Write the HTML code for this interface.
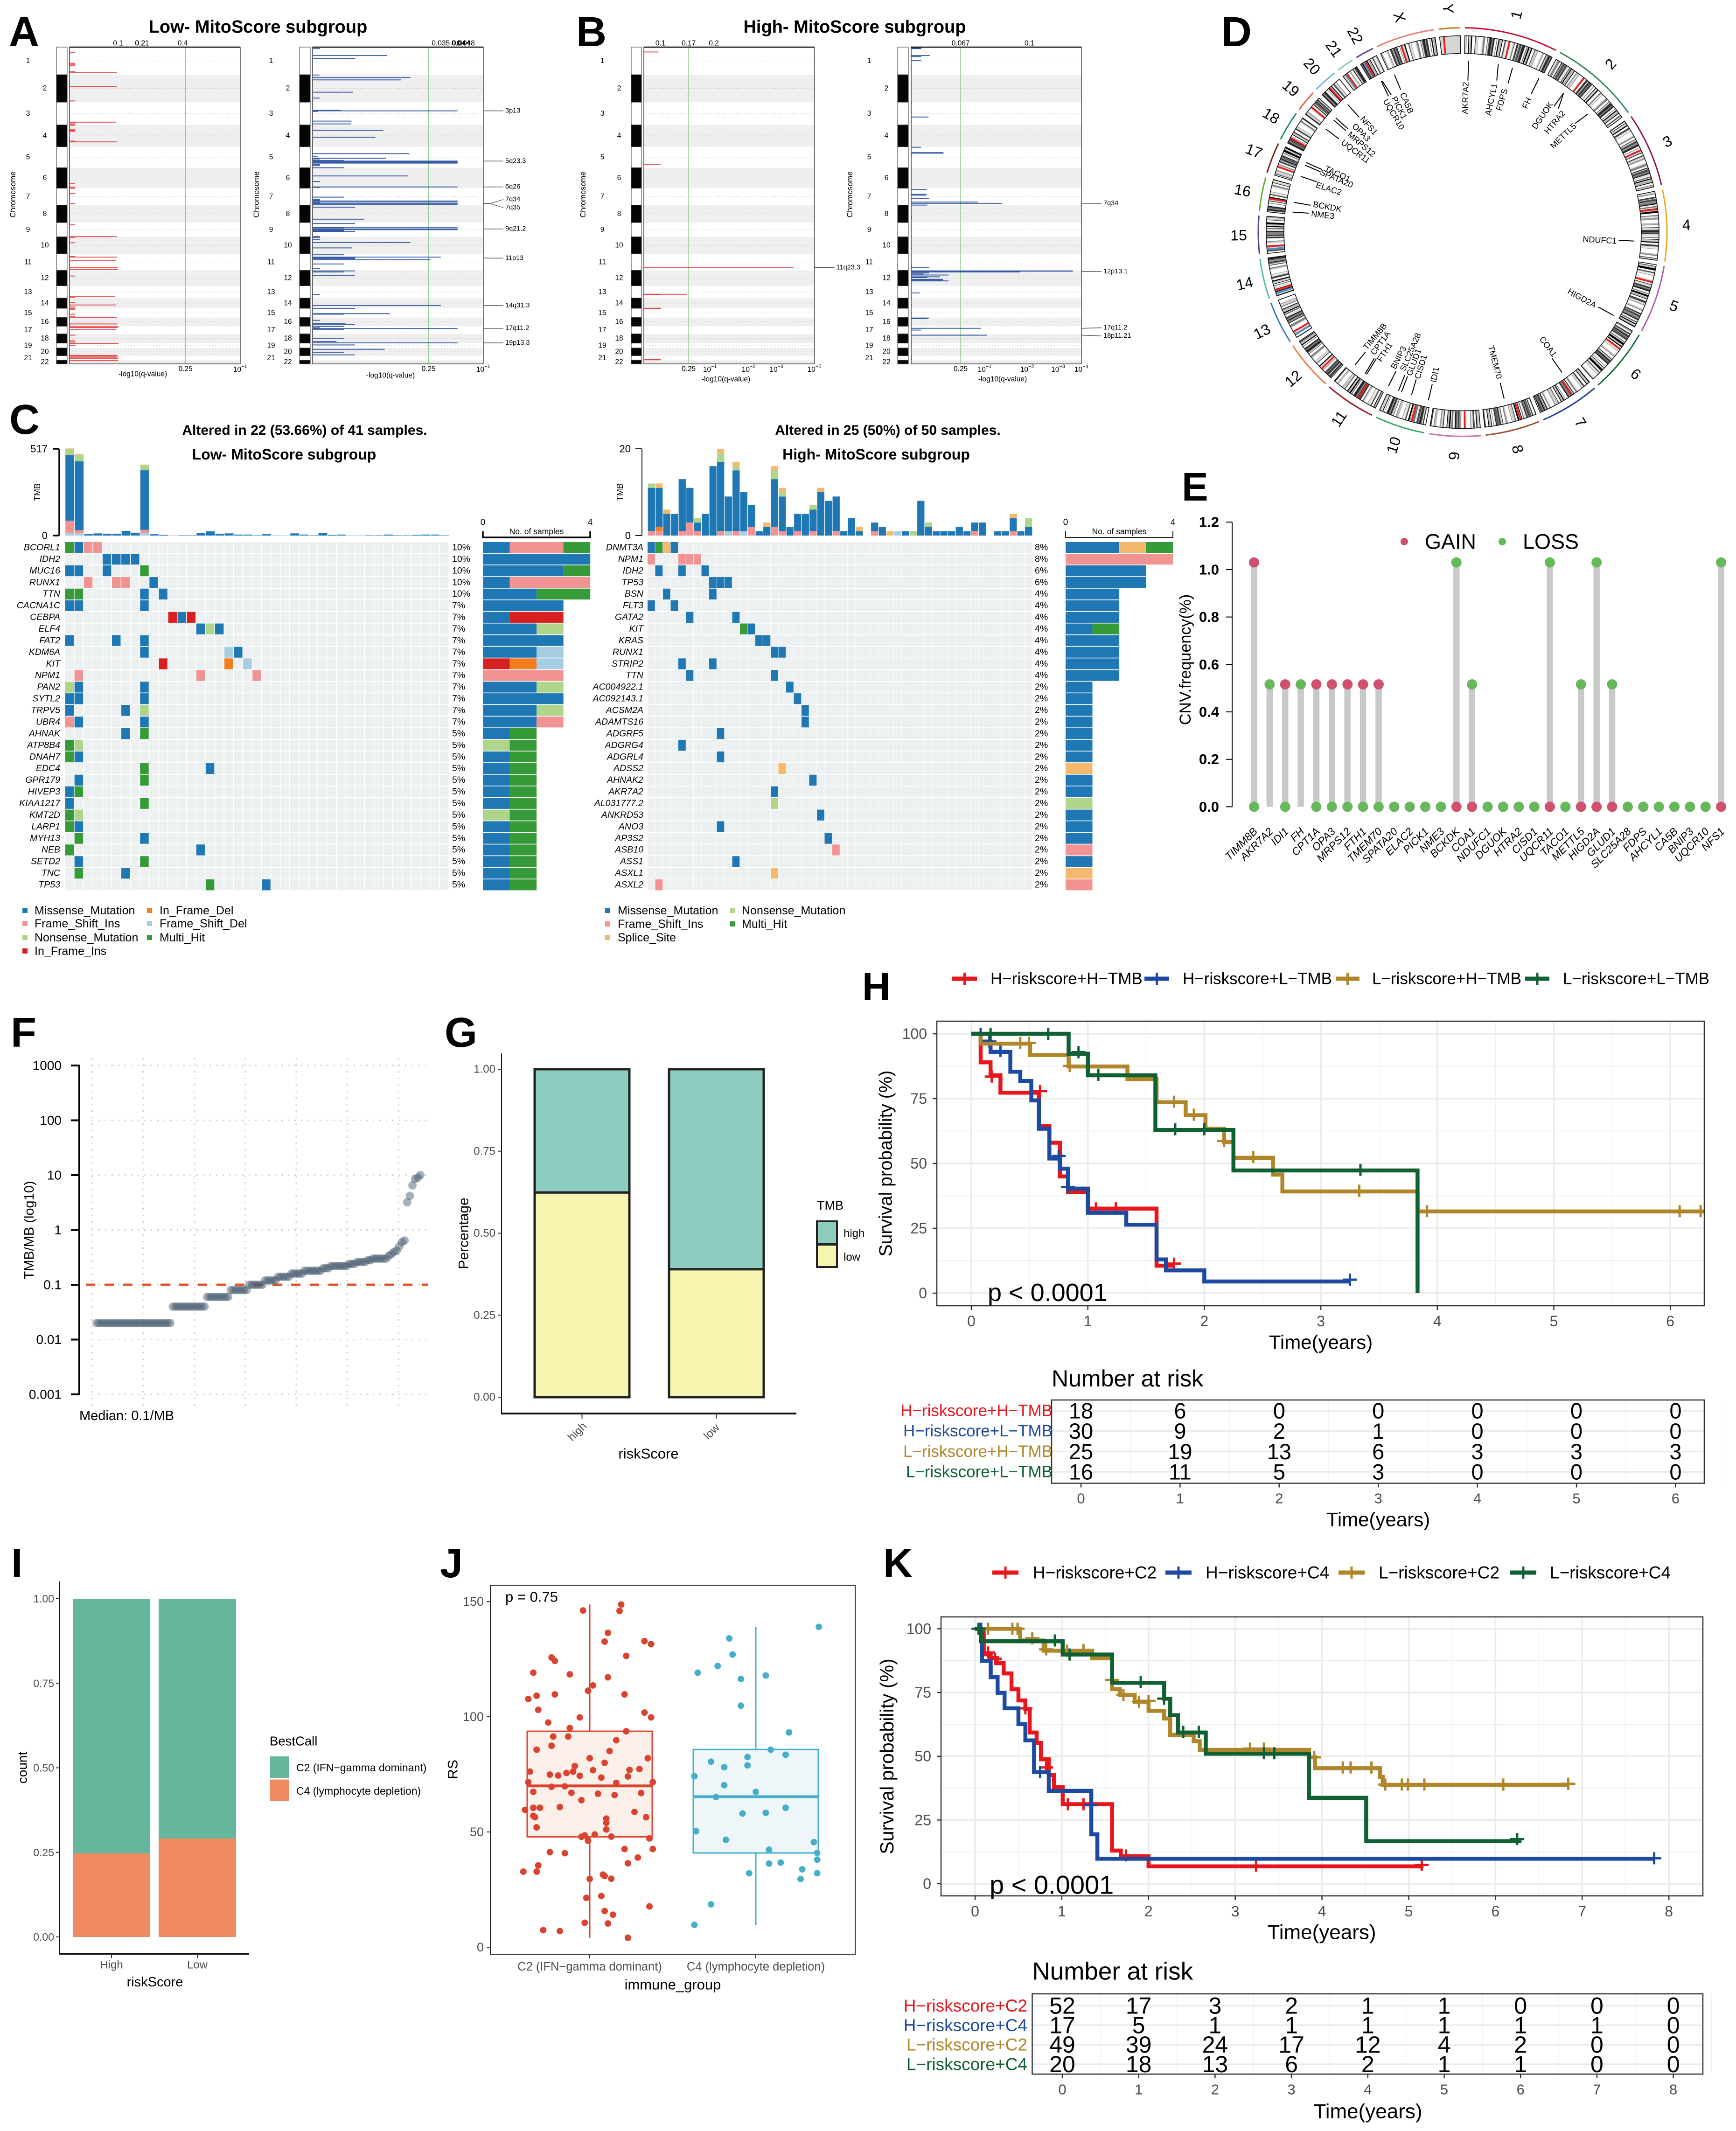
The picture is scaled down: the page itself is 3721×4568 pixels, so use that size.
<!DOCTYPE html>
<html lang="en">
<head>
<meta charset="utf-8">
<title>Multi-panel genomic figure</title>
<style>
html,body{margin:0;padding:0;background:#fff}
svg{display:block;font-family:"Liberation Sans",Arial,sans-serif}
.letter{font-weight:700;font-size:90px;fill:#000}
.ttl{font-weight:700;fill:#000;text-anchor:middle}
</style>
</head>
<body>
<svg id="figure" xmlns="http://www.w3.org/2000/svg" width="3721" height="4568" viewBox="0 0 3721 4568">
<rect x="0" y="0" width="3721" height="4568" fill="#fff"/>
<g id="panelA">
  <text class="letter" x="19" y="99">A</text>
  <text class="ttl" x="553" y="70" font-size="38">Low- MitoScore subgroup</text>
</g>
<g id="panelB">
  <text class="letter" x="1235" y="99">B</text>
  <text class="ttl" x="1832" y="70" font-size="38">High- MitoScore subgroup</text>
</g>
<g id="panelD">
  <text class="letter" x="2618" y="99">D</text>
</g>
<g id="panelC">
  <text class="letter" x="20" y="930">C</text>
  <text class="ttl" x="653" y="932" font-size="30">Altered in 22 (53.66%) of 41 samples.</text>
  <text class="ttl" x="609" y="985" font-size="32">Low- MitoScore subgroup</text>
  <text class="ttl" x="1903" y="932" font-size="30">Altered in 25 (50%) of 50 samples.</text>
  <text class="ttl" x="1878" y="985" font-size="32">High- MitoScore subgroup</text>
</g>
<g id="panelE">
  <text class="letter" x="2533" y="1073" style="font-size:85px">E</text>
</g>
<g id="panelF">
  <text class="letter" x="23" y="2244">F</text>
</g>
<g id="panelG">
  <text class="letter" x="953" y="2244">G</text>
</g>
<g id="panelH">
  <text class="letter" x="1848" y="2144" style="font-size:84px">H</text>
</g>
<g id="panelI">
  <text class="letter" x="24" y="3381" style="font-size:88px">I</text>
</g>
<g id="panelJ">
  <text class="letter" x="943" y="3381" style="font-size:88px">J</text>
</g>
<g id="panelK">
  <text class="letter" x="1893" y="3381" style="font-size:88px">K</text>
</g>
</svg>
<script>
/* ===== DATA: gistic ===== */
const chromLengths=[108,107,89,85,82,80,66,68,56,66,65,60,48,40,36,34,30,36,19,30,18,14];
const gisticLowAmp=[[22,16],[63,16],[67,16],[72,16],[96,16],[100,133],[154,133],[210,16],[293,130],[296,16],[301,16],[305,16],[321,16],[325,16],[329,16],[367,16],[370,133],[533,16],[547,16],[551,16],[572,16],[610,16],[694,16],[740,133],[743,16],[764,16],[818,16],[820,133],[834,130],[861,135],[869,137],[894,16],[973,127],[977,16],[997,16],[1007,131],[1015,16],[1020,16],[1025,16],[1043,16],[1051,16],[1056,133],[1081,133],[1092,137],[1095,135],[1102,131],[1125,16],[1147,16],[1152,16],[1157,137],[1166,16],[1204,135],[1207,135],[1211,133],[1217,137],[1224,137]];
const gisticLowDel=[[6,21],[33,209],[44,119],[109,19],[119,274],[128,248],[176,113],[199,20],[247,79],[249,406],[251,14],[289,109],[300,108],[325,198],[352,176],[416,271],[426,14],[434,206],[437,20],[443,87],[445,406],[448,406],[451,406],[453,406],[459,21],[463,21],[471,88],[503,268],[525,21],[546,406],[548,21],[586,88],[595,21],[598,21],[601,406],[605,406],[608,21],[611,406],[615,406],[625,119],[672,144],[689,119],[704,406],[706,88],[710,406],[713,406],[716,88],[719,88],[720,119],[739,21],[743,21],[752,21],[763,274],[784,111],[811,88],[820,359],[823,119],[826,119],[830,330],[847,88],[865,21],[874,119],[878,88],[891,119],[966,21],[1009,359],[1021,119],[1041,216],[1043,88],[1067,21],[1080,92],[1083,119],[1091,88],[1096,21],[1099,406],[1102,88],[1137,88],[1150,67],[1155,406],[1163,119],[1180,202],[1192,88],[1202,119]];
const gisticHighAmp=[[19,38],[458,44],[861,387],[965,112],[966,44],[1020,44],[1021,44],[1220,44],[1221,44]];
const gisticHighDel=[[4,26],[5,26],[6,26],[33,48],[37,26],[53,26],[273,45],[391,26],[412,82],[414,85],[556,40],[575,40],[578,39],[591,47],[605,172],[610,234],[617,42],[861,47],[874,418],[875,418],[878,282],[882,47],[886,32],[890,97],[897,75],[900,42],[907,82],[910,82],[913,97],[960,22],[1058,47],[1060,42],[1098,180],[1105,26],[1125,196],[80,2],[145,2],[213,2],[220,2],[250,2],[255,2],[285,2],[295,2],[425,2],[483,2],[527,2],[660,2],[665,2],[670,2],[700,2],[740,2],[785,2],[850,2],[857,2],[925,2],[980,2],[1005,2],[1037,2],[1155,2],[1165,2],[1207,2],[1215,2],[1220,2]];
const lowAmpTopLabels=['0.1','0.2','0.21','0.4'];
const lowAmpTopScores=[136,198,203,317];
const lowDelTopLabels=['0.035','0.04','0.044','0.048'];
const lowDelTopScores=[359,409,416,429];
const highAmpTopLabels=['0.1','0.17','0.2'];
const highAmpTopScores=[43,116,181];
const highDelTopLabels=['0.067','0.1'];
const highDelTopScores=[128,306];
const lowBottomExps=['−1'];
const lowBottomScores=[478];
const highAmpBottomExps=['−1','−2','−3','−5'];
const highAmpBottomScores=[171,271,343,441];
const highDelBottomExps=['−1','−2','−3','−4'];
const highDelBottomScores=[190,300,380,440];
const lowDelPeaks=[['3p13',249,249],['5q23.3',445,445],['6q26',546,546],['7q34',611,595],['7q35',611,627],['9q21.2',710,710],['11p13',824,824],['14q31.3',1009,1009],['17q11.2',1098,1098],['19p13.3',1155,1155]];
const highAmpPeaks=[['11q23.3',861,861]];
const highDelPeaks=[['7q34',610,610],['12p13.1',876,876],['17q11.2',1098,1096],['18p11.21',1125,1128]];

/* ===== DATA: circos ===== */
const circosNames=['1','2','3','4','5','6','7','8','9','10','11','12','13','14','15','16','17','18','19','20','21','22','X','Y'];
const circosLengths=[248,242,198,190,181,171,159,145,138,133,135,133,114,107,102,90,83,80,58,64,46,50,156,57];
const circosCentromeres=[.5,.38,.46,.26,.27,.35,.38,.31,.31,.3,.4,.27,.16,.15,.19,.41,.3,.2,.45,.44,.28,.3,.39,.2];
const circosArcColors=['#c8102e','#2e8b57','#8b1a5a','#f5a623','#b05cb0','#1e6b3c','#1f3f9f','#a0522d','#d070a8','#3caa6e','#9b1c2e','#ee7744','#3a7ab5','#4cbfa5','#5e3c99','#5fae2e','#8b1a1a','#1f8a70','#e0604a','#6fb5d6','#7ecbb5','#5e3c99','#e87a70','#c87a20'];
const bandGrays=[255,200,255,120,235,60,255,160,220,0,255,100,210,255,40,180,255,140,0,240,90,255,190,30,255,130,225,70,255];
const bandWidths=[3,2,5,2,4,1.5,3,2,6,2,2.5,3,1.5,4,2,3];
const acrocentric=['13','14','15','21','22'];
const circosGenes=[['AKR7A2',2,2,367,325,1.2,322],['AHCYL1',12,12.7,368,333,12.2,326],['FDPS',16.9,17,368,333,16.5,320],['FH',26.4,26.4,368,331,26.5,321],['DGUOK',36,36,368,333,34.4,336],['HTRA2',36,37.8,368,335,40,337],['METTL5',46.7,46,369,335,46.3,333],['NDUFC1',93,93,368,335,93.3,331],['HIGD2A',118.9,118.9,370,332,119,326],['COA1',144.7,144.7,369,332,143.3,331],['TMEM70',166,166,368,333,166,324],['IDI1',191.5,191.3,368,332,191,328],['CISD1',197.4,197.5,366,331,197.2,329],['GLUD1',200.9,200.9,367,331,200.5,328],['SLC25A28',202,202,367,331,203.5,324],['BNIP3',205.7,205.6,366,331,207,328],['FTH1',214,214.3,368,328,213,329],['CPT1A',214.5,215,369,330,216.5,325],['TIMM8B',219,219,367,331,220,326],['NME3',276.7,277,367,332,277,327],['BCKDK',280,280,367,331,280.6,326],['ELAC2',289,289,367,331,288,330],['SPATA20',293,293,367,331,293,331],['TACO1',294,294,367,330,295,325],['UQCR11',307,307,367,332,307,323],['MRPS12',311,311,366,331,311,323],['OPA3',312,312,366,331,314.5,328],['NFS1',318,318,368,331,318.6,327],['UQCR10',331.7,331.4,368,332,329.7,329],['PICK1',332,332.5,367,331,333,325],['CA5B',336.6,336.5,368,333,336.6,325]];

/* ===== DATA: oncoplots ===== */
const mutColors={M:'#1f78b4',F:'#f29393',N:'#aed58a',I:'#d82020',E:'#f47d20',D:'#a6cee3',S:'#f5b96e',H:'#359a37'};
const mutOrder=['M','F','N','S','I','E','D','H'];
const lowGenes=['BCORL1','IDH2','MUC16','RUNX1','TTN','CACNA1C','CEBPA','ELF4','FAT2','KDM6A','KIT','NPM1','PAN2','SYTL2','TRPV5','UBR4','AHNAK','ATP8B4','DNAH7','EDC4','GPR179','HIVEP3','KIAA1217','KMT2D','LARP1','MYH13','NEB','SETD2','TNC','TP53'];
const lowPct=['10%','10%','10%','10%','10%','7%','7%','7%','7%','7%','7%','7%','7%','7%','7%','7%','5%','5%','5%','5%','5%','5%','5%','5%','5%','5%','5%','5%','5%','5%'];
const lowCells=['0H 1M 2F 3F','4M 5M 6M 7M','0M 1M 4M 8H','2F 5F 6F 9M','0H 1H 8M 10M','0M 1M 8M','11I 12M 13I','14M 15N 16M','0M 5M 8M','8M 17D 18M','10I 17E 19D','1F 14F 20F','0N 1M 8M','0M 1M 8M','0M 6M 8N','0F 1M 8M','6M 8H','0H 1N','0H 1M','8H 15M','1M 8H','0M 1H','0M 8H','0H 1N','0H 1M','1H 8M','0H 14M','1M 8H','1H 6M','15H 21M'];
const lowTmb=['D17 F72 M390 N36 S4','D13 F19 M410 N38 S6','M8','M13','M11','M11','M28','M17','D15 F19 M355 N30 S4','M8','M4','F2','M2','M2','M15','M25','M11','M13','M6','M6','M2','M8','M1','M1','M13','M6','M2','M15','M4','M6','M1','M1','M2','M2','M6','M2','M2','M4','M6','M6','M2'];
const highGenes=['DNMT3A','NPM1','IDH2','TP53','BSN','FLT3','GATA2','KIT','KRAS','RUNX1','STRIP2','TTN','AC004922.1','AC092143.1','ACSM2A','ADAMTS16','ADGRF5','ADGRG4','ADGRL4','ADSS2','AHNAK2','AKR7A2','AL031777.2','ANKRD53','ANO3','AP3S2','ASB10','ASS1','ASXL1','ASXL2'];
const highPct=['8%','8%','6%','6%','4%','4%','4%','4%','4%','4%','4%','4%','2%','2%','2%','2%','2%','2%','2%','2%','2%','2%','2%','2%','2%','2%','2%','2%','2%','2%'];
const highCells=['0M 1H 2S 3M','0F 4F 5F 6F','1M 4M 7M','8M 9M 10M','2M 8M','0M 3M','5M 11M','12H 13M','14M 15M','16M 17M','4M 8M','5M 16M','18M','19M','20M','20M','9M','4M','9M','17S','21M','16M','16N','22M','9M','23M','24F','11M','16S','1F'];
const highTmb=['F1 M10 N1','F1 E1 M9 S1','M5 S1','M5','F1 M12','F3 M8','F1 M2 N1','M5','M16','F1 M16 N2 S1','D1 M8','F1 M14 N1 S1','D1 M9','F2 M5','M1','M2 S1','F2 M11 N2 S1','F1 M8 N1 S1','M2','F1 M4','M5','F1 M5 N1','M10 S1','M8','F1 M8','M1','M4','M1 S1','','F1 M2','M2','S1','D1','M1','N1','M8','M2 N1','M1','M1','M1','M2','M1','F1 M2','M3','','M1','M1','F1 M3 S1','M1','M2 N2'];
const lowLegendLabels=['Missense_Mutation','Frame_Shift_Ins','Nonsense_Mutation','In_Frame_Ins','In_Frame_Del','Frame_Shift_Del','Multi_Hit'];
const lowLegendTypes=['M','F','N','I','E','D','H'];
const highLegendLabels=['Missense_Mutation','Frame_Shift_Ins','Splice_Site','Nonsense_Mutation','Multi_Hit'];
const highLegendTypes=['M','F','S','N','H'];

/* ===== DATA: CNV lollipop ===== */
const cnvGenes=['TIMM8B','AKR7A2','IDI1','FH','CPT1A','OPA3','MRPS12','FTH1','TMEM70','SPATA20','ELAC2','PICK1','NME3','BCKDK','COA1','NDUFC1','DGUOK','HTRA2','CISD1','UQCR11','TACO1','METTL5','HIGD2A','GLUD1','SLC25A28','FDPS','AHCYL1','CA5B','BNIP3','UQCR10','NFS1'];
const cnvGain=[1.03,null,.516,null,.516,.516,.516,.516,.516,0,0,0,0,0,0,0,0,0,0,0,0,0,0,0,0,0,0,0,0,0,0];
const cnvLoss=[0,.516,0,.516,0,0,0,0,0,0,0,0,0,1.03,.516,0,0,0,0,1.03,0,.516,1.03,.516,0,0,0,0,0,0,1.03];
const cnvTicks=['0.0','0.2','0.4','0.6','0.8','1.0','1.2'];

/* ===== DATA: TMB dotplot ===== */
const tmbLevels=[.02,.04,.06,.08,.1,.12,.14,.16,.18,.2,.22,.24,.26,.28,.3,.34,.36,.4,.42,.5,.6,.64,3.2,4.2,6.5,8.5,9,10];
const tmbCounts=[29,13,9,7,6,5,5,5,7,3,7,3,4,2,6,1,1,1,1,1,1,1,1,1,1,1,1,1];
const tmbTicks=[1000,100,10,1,.1,.01,.001];

/* ===== DATA: stacked bars ===== */
const gCategories=['high','low'];
const gLowShare=[.624,.39];
const gTicks=['0.00','0.25','0.50','0.75','1.00'];
const iCategories=['High','Low'];
const iC4Share=[.247,.291];

/* ===== DATA: survival H ===== */
const hRedT=[.08,.165,.25,.58,.67,.76,.83,1.0,1.59,1.74];
const hRedS=[89,84,77.3,64.4,58,45,39,32.6,10.6,10.6];
const hRedCensor=[[.175,83.5],[.59,77.9],[1.07,32.7],[1.24,32.7],[1.74,11.4]];
const hBlueT=[.08,.165,.335,.42,.515,.58,.67,.76,.83,1.0,1.33,1.59,1.67,2.0,3.25];
const hBlueS=[97,93,85.4,81.8,74.3,63.4,51.9,48,40.3,31,26.4,13,8.8,4.5,4.5];
const hBlueCensor=[[.08,100],[.155,97],[.25,93.4],[.75,52.9],[.83,40.9],[3.25,5.2]];
const hGoldT=[.08,.505,.835,1.34,1.59,1.84,2.01,2.17,2.25,2.59,2.67,3.83,6.29];
const hGoldS=[96.2,91.8,87.4,82.5,73.6,68.6,63.4,58.2,52.2,45.7,39.2,31.5,31.5];
const hGoldCensor=[[.42,96.5],[.495,96.5],[.845,87.6],[1.74,73.8],[1.91,68.8],[2.17,58.7],[2.42,52.5],[3.33,39.5],[3.91,31.6],[6.08,31.6],[6.26,31.6]];
const hGreenT=[.835,1.0,1.58,2.25,3.83];
const hGreenS=[92.3,84,62.9,47.3,0];
const hGreenCensor=[[.165,100],[.66,100],[.92,92.9],[1.09,84.2],[1.75,63.2],[2.0,63.2],[3.34,47.5]];
const hSeries=['H−riskscore+H−TMB','H−riskscore+L−TMB','L−riskscore+H−TMB','L−riskscore+L−TMB'];
const hRisk=[[18,6,0,0,0,0,0],[30,9,2,1,0,0,0],[25,19,13,6,3,3,3],[16,11,5,3,0,0,0]];

/* ===== DATA: box plot J ===== */
const jCategories=['C2 (IFN−gamma dominant)','C4 (lymphocyte depletion)'];
const jQ3=[93.7,85.8];
const jMedian=[70,65.3];
const jQ1=[47.9,40.9];
const jWhiskerHigh=[148.7,138.9];
const jWhiskerLow=[4.1,9.7];
const jC2Values=[148.7,146.1,145.9,136.4,132.6,132.8,131.5,125.7,124.2,126.4,119.1,118.4,117.1,113.6,111.3,109.7,109.7,109.1,107.7,103,101.8,99.7,99.7,97.5,95.1,93.7,91.4,91.4,89.8,87.4,85.7,85.1,82,82,80,78.6,76.2,76.8,76.9,77.3,76.2,74.9,74.5,75.6,74.4,73.6,74.1,71.6,71.6,71.3,69.6,69.8,67.4,67,66.6,66,66.9,63.8,60.8,60.5,60.5,59.6,58.7,57,56.4,56.4,55.8,54,52,51.1,48,48.9,47.9,48.5,46.2,47.2,42.6,42.6,41.2,40.8,38.9,35.5,36.4,32.8,32.8,31.5,30.9,29.6,29.7,22.2,21.4,17.7,15.7,14.1,10.6,10.3,7.4,7,4.1];
const jC2Jitter=[.19,-.04,.18,.11,.09,.33,.37,-.23,-.21,.22,-.34,-.12,.11,.02,-.01,-.21,.21,-.32,-.37,-.31,.33,.37,-.06,-.25,-.12,.22,-.22,-.13,.16,-.23,-.32,.12,.35,0,.09,-.09,-.1,.02,.24,.3,-.36,-.24,-.19,-.14,-.06,.07,.23,-.37,.38,.16,-.23,-.15,-.34,-.11,.05,.15,.31,-.05,-.18,-.34,-.3,-.39,.27,-.34,-.33,.34,.1,.1,-.32,.1,.13,.03,-.05,-.03,-.01,.36,.21,.38,-.24,-.15,.29,-.31,.23,-.32,-.4,.08,.09,0,.13,.07,-.02,.36,.09,.14,-.03,.11,-.28,-.18,.23];
const jC4Values=[139,134,127,122,119.1,117.9,116.4,104.8,93.2,85.7,83.5,82.5,80.5,78.1,78.9,74.2,70.3,67.4,65.2,58,58.3,60.5,50.3,46.6,45.6,42.3,40.9,38,36.7,36.3,33.8,32.1,32.1,29.6,18.6,9.7];
const jC4Jitter=[.38,-.16,-.14,-.23,-.35,.06,-.09,-.09,.2,.09,.18,-.05,-.27,-.19,-.05,-.37,-.19,0,-.24,-.08,.06,.18,-.36,-.18,.35,.08,.37,.37,.15,.08,.28,-.04,.37,.27,-.27,-.37];
const jTicks=[0,50,100,150];

/* ===== DATA: survival K ===== */
const kRedT=[.1,.18,.25,.33,.42,.5,.58,.63,.71,.76,.85,.91,1.01,1.58,1.68,2,5.17];
const kRedS=[90,88.5,86.5,82.5,76.3,71.9,68.5,59.3,55.2,48.8,42.6,37.9,31.2,13,10.8,6.8,6.8];
const kRedCensor=[[.15,90.7],[.23,88.2],[.58,68.8],[.82,45.6],[1.07,31.2],[1.25,31.2],[1.74,11.1],[3.24,7.1],[5.15,7.4]];
const kBlueT=[.08,.18,.26,.34,.5,.58,.68,.85,1.34,1.41,7.83];
const kBlueS=[87.4,81,74.9,68.8,62.6,56.2,43.8,36.4,19.4,9.8,9.8];
const kBlueCensor=[[.07,100],[.75,43.8],[1.33,30.8],[7.83,10]];
const kGoldT=[.52,.79,1.35,1.58,1.67,1.84,2,2.18,2.25,2.52,2.59,3.85,3.92,4.67,4.7,6.84];
const kGoldS=[95.4,91.4,88.5,76.3,74,71.4,67.8,64.8,58.4,55.9,52.5,49.6,45.3,41.9,38.8,38.8];
const kGoldCensor=[[.15,100],[.43,100],[.49,100],[.66,96.3],[.82,91.9],[1.06,91.4],[1.25,91.7],[1.58,79.9],[1.71,74.1],[1.89,71.4],[2,71.7],[3.17,53],[3.33,53],[3.91,49.6],[4.24,45.6],[4.33,45.6],[4.57,45.6],[4.73,38.9],[4.92,38.9],[4.99,38.9],[5.18,38.9],[6.09,38.9],[6.84,39.2]];
const kGreenT=[.07,1.01,1.58,2.18,2.25,2.34,2.66,3.85,4.51,6.3];
const kGreenS=[95.1,89.9,78.8,72.6,66.1,59.3,51,33.7,16.7,16.7];
const kGreenCensor=[[.04,100],[.92,95.4],[1.09,89.9],[1.91,79.1],[2.18,72.6],[2.4,59.6],[2.58,59.6],[3.33,51.2],[3.45,51.2],[6.25,17.5]];
const kSeries=['H−riskscore+C2','H−riskscore+C4','L−riskscore+C2','L−riskscore+C4'];
const kRisk=[[52,17,3,2,1,1,0,0,0],[17,5,1,1,1,1,1,1,0],[49,39,24,17,12,4,2,0,0],[20,18,13,6,2,1,1,0,0]];
const survivalTicks=[0,25,50,75,100];
const kmColors=['#e8161c','#1c4aa0','#b0862a','#0f6033'];

/* ===== HELPERS ===== */
const NS='http://www.w3.org/2000/svg';
function mk(tag,parent,name,attrs){
  const el=document.createElementNS(NS,tag);
  for(const k in attrs){el.setAttribute(k,attrs[k]);}
  
  
  parent.appendChild(el);
  return el;
}
function R(p,name,x,y,w,h,fill,extra){return mk('rect',p,name,Object.assign({x:x,y:y,width:w,height:h,fill:fill},extra||{}));}
function L(p,name,x1,y1,x2,y2,stroke,sw,extra){return mk('line',p,name,Object.assign({x1:x1,y1:y1,x2:x2,y2:y2,stroke:stroke,'stroke-width':sw},extra||{}));}
function T(p,name,x,y,s,size,o){
  o=o||{};
  const a={x:x,y:y,'font-size':size,'text-anchor':o.a||'start','dominant-baseline':'central',fill:o.f||'#000'};
  if(o.b){a['font-weight']='700';}
  if(o.i){a['font-style']='italic';}
  if(o.r!==undefined){a.transform='rotate('+o.r+' '+x+' '+y+')';}
  const el=mk('text',p,name,a);
  el.textContent=s;
  return el;
}
function C(p,name,cx,cy,r,fill,extra){return mk('circle',p,name,Object.assign({cx:cx,cy:cy,r:r,fill:fill},extra||{}));}
function P(p,name,d,attrs){return mk('path',p,name,Object.assign({d:d},attrs||{}));}

/* ===== GISTIC ===== */
const gTop=101,gBottom=780,gScaleY=(gBottom-gTop)/1237;
function genomeY(pos){return gTop+pos*gScaleY;}
function drawGistic(g,cfg){
  const xScore=s=>cfg.plotX+s*cfg.sx;
  let cum=0;
  chromLengths.forEach((len,i)=>{
    const y0=genomeY(cum),y1=genomeY(cum+len),mid=(y0+y1)/2,even=(i%2===1);
    if(even){R(g,'chromosome-band-shade',cfg.plotX,y0,cfg.plotW,y1-y0,'#efefef');}
    R(g,'chromosome-ideogram-segment',cfg.barX,y0,cfg.barW,y1-y0,even?'#050505':'#fff',{stroke:'#333','stroke-width':1});
    T(g,'chromosome-label',even?cfg.evenX:cfg.oddX,mid,String(i+1),15.5,{a:'middle'});
    L(g,'chromosome-midline',cfg.plotX+6,mid,cfg.plotX+cfg.plotW-4,mid,'#b8b8b8',1.2,{'stroke-dasharray':'1.5 4.5'});
    cum+=len;
  });
  L(g,'q-value-threshold-line',xScore(cfg.green),gTop,xScore(cfg.green),gBottom,'#8fd08a',1.6);
  cfg.bars.forEach(b=>{
    L(g,'gistic-peak-bar',cfg.plotX,genomeY(b[0]),xScore(b[1]),genomeY(b[0]),cfg.color,2,{opacity:.86});
  });
  L(g,'gistic-baseline',cfg.plotX,gTop,cfg.plotX,gBottom,cfg.color,1.4);
  R(g,'gistic-plot-frame',cfg.plotX,gTop,cfg.plotW,gBottom-gTop,'none',{stroke:'#555','stroke-width':1.6});
  L(g,'gistic-top-axis',cfg.plotX,gTop,cfg.plotX+cfg.plotW,gTop,'#111',2.4);
  cfg.topLabels.forEach((t,i)=>{
    T(g,'gistic-top-tick-label',xScore(cfg.topScores[i]),93,t,15.5,{a:'middle'});
  });
  T(g,'gistic-threshold-label',xScore(cfg.green),791,'0.25',15.5,{a:'middle'});
  cfg.bottomExps.forEach((t,i)=>{
    const el=T(g,'gistic-bottom-tick-label',xScore(cfg.bottomScores[i]),792,'',15.5,{a:'middle'});
    const a=mk('tspan',el,'tick-base',{});
    a.textContent='10';
    const b=mk('tspan',el,'tick-exponent',{'font-size':11,dy:-6});
    b.textContent=t;
  });
  T(g,'gistic-x-axis-title',cfg.titleX,cfg.titleY,'-log10(q-value)',15.5,{a:'middle'});
  T(g,'gistic-y-axis-title',cfg.yTitleX,417,'Chromosome',16.5,{a:'middle',r:-90});
  const right=cfg.plotX+cfg.plotW;
  cfg.peaks.forEach(p=>{
    const ya=genomeY(p[1]),yb=genomeY(p[2]);
    if(Math.abs(ya-yb)>5){
      L(g,'peak-connector-stem',right,ya,right+14,ya,'#555',1.6);
      L(g,'peak-connector',right+14,ya,right+43,yb,'#555',1.2);
    }else{
      L(g,'peak-connector',right,ya,right+43,yb,'#555',1.5);
    }
    T(g,'peak-label',right+47,yb,p[0],14.5);
  });
}
const panelA=document.getElementById('panelA');
drawGistic(panelA,{barX:121,barW:23,plotX:149,plotW:366,sx:.7653,color:'#e53a3a',green:325,bars:gisticLowAmp,topLabels:lowAmpTopLabels,topScores:lowAmpTopScores,bottomExps:lowBottomExps,bottomScores:lowBottomScores,oddX:60,evenX:96,titleX:306,titleY:802,yTitleX:28,peaks:[]});
drawGistic(panelA,{barX:642,barW:23,plotX:670,plotW:366,sx:.7653,color:'#234b9c',green:325,bars:gisticLowDel,topLabels:lowDelTopLabels,topScores:lowDelTopScores,bottomExps:lowBottomExps,bottomScores:lowBottomScores,oddX:581,evenX:617,titleX:837,titleY:805,yTitleX:550,peaks:lowDelPeaks});
const panelB=document.getElementById('panelB');
drawGistic(panelB,{barX:1353,barW:22,plotX:1380,plotW:365.6,sx:.829,color:'#e53a3a',green:116,bars:gisticHighAmp,topLabels:highAmpTopLabels,topScores:highAmpTopScores,bottomExps:highAmpBottomExps,bottomScores:highAmpBottomScores,oddX:1291,evenX:1327,titleX:1556,titleY:813,yTitleX:1250,peaks:highAmpPeaks});
drawGistic(panelB,{barX:1924,barW:23,plotX:1953,plotW:365,sx:.829,color:'#234b9c',green:128,bars:gisticHighDel,topLabels:highDelTopLabels,topScores:highDelTopScores,bottomExps:highDelBottomExps,bottomScores:highDelBottomScores,oddX:1863,evenX:1900,titleX:2149,titleY:813,yTitleX:1822,peaks:highDelPeaks});

/* ===== CIRCOS ===== */
(function(){
  const g=document.getElementById('panelD');
  const cx=3135,cy=497.5,gap=1.3;
  const pol=(t,r)=>{const a=t*Math.PI/180;return [cx+r*Math.sin(a),cy-r*Math.cos(a)];};
  const wedge=(t1,t2,r1,r2)=>{
    const a=pol(t1,r2),b=pol(t2,r2),c=pol(t2,r1),d=pol(t1,r1);
    const lg=(t2-t1)>180?1:0;
    return 'M'+a[0].toFixed(1)+' '+a[1].toFixed(1)+'A'+r2+' '+r2+' 0 '+lg+' 1 '+b[0].toFixed(1)+' '+b[1].toFixed(1)+'L'+c[0].toFixed(1)+' '+c[1].toFixed(1)+'A'+r1+' '+r1+' 0 '+lg+' 0 '+d[0].toFixed(1)+' '+d[1].toFixed(1)+'Z';
  };
  const total=circosLengths.reduce((a,b)=>a+b,0);
  const perMb=(360-gap*circosLengths.length)/total;
  let theta=gap/2;
  circosNames.forEach((nm,i)=>{
    const len=circosLengths[i],t1=theta,t2=theta+len*perMb;
    if(nm==='Y'){
      P(g,'ideogram-band',wedge(t1,t2,383,421),{fill:'#d6d6d6'});
    }else{
      let pos=0,k=i*5;
      while(pos<len){
        const w=Math.min(bandWidths[k%bandWidths.length],len-pos);
        const v=bandGrays[(k*3+i)%bandGrays.length];
        P(g,'ideogram-band',wedge(t1+pos*perMb,t1+(pos+w)*perMb+.03,383,421),{fill:'rgb('+v+','+v+','+v+')'});
        pos+=w;k++;
      }
    }
    const ctr=t1+circosCentromeres[i]*len*perMb;
    if(acrocentric.indexOf(nm)>=0){
      const bl=t1+(circosCentromeres[i]-.08)*len*perMb;
      P(g,'ideogram-heterochromatin',wedge(bl-.3,bl+.3,383,421),{fill:'#5b8fc0'});
    }
    P(g,'ideogram-centromere',wedge(ctr-.27,ctr+.27,383,421),{fill:'#e8201c'});
    P(g,'ideogram-outline',wedge(t1,t2,383,421),{fill:'none',stroke:'#111','stroke-width':1.6});
    const a=pol(t1,438),b=pol(t2,438);
    P(g,'chromosome-arc','M'+a[0]+' '+a[1]+'A438 438 0 0 1 '+b[0]+' '+b[1],{fill:'none',stroke:circosArcColors[i],'stroke-width':3});
    const mid=(t1+t2)/2,lp=pol(mid,480);
    const rot=mid<180?mid-90:mid+90;
    T(g,'chromosome-name',lp[0],lp[1],nm,32,{a:'middle',r:+rot.toFixed(1)});
    theta=t2+gap;
  });
  circosGenes.forEach(q=>{
    const a=pol(q[1],q[3]),b=pol(q[2],q[4]);
    L(g,'gene-connector',a[0],a[1],b[0],b[1],'#000',2);
    const tp=pol(q[5],q[6]);
    const right=q[5]<180;
    const rot=right?q[5]-90:q[5]+90;
    T(g,'gene-label',tp[0],tp[1],q[0],18,{a:right?'end':'start',r:+rot.toFixed(1)});
  });
})();

/* ===== ONCOPLOTS ===== */
function parseItems(s){return s?s.split(' ').map(x=>[x.replace(/^\d+/,''),x.replace(/\D+.*$/,'')]):[];}
function drawOnco(g,c){
  const colW=(c.x1-c.x0)/c.nCols,rowTop=1162,rowH=(1910-1162)/30;
  c.tmb.forEach((s,col)=>{
    let acc=0;
    const items=s?s.split(' '):[];
    items.forEach(it=>{
      const type=it[0],val=parseFloat(it.slice(1));
      const h=val*186/c.tmbMax,y=1148-(acc+val)*186/c.tmbMax;
      R(g,'tmb-stack-segment',c.x0+col*colW+.6,y,colW-1.2,h,mutColors[type]);
      acc+=val;
    });
  });
  L(g,'tmb-axis',c.axisX,962,c.axisX,1148,'#000',c.axisW);
  L(g,'tmb-axis-tick-top',c.axisX-14,962,c.axisX,962,'#000',c.axisW);
  L(g,'tmb-axis-tick-bottom',c.axisX-14,1148,c.axisX,1148,'#000',c.axisW);
  T(g,'tmb-axis-max',c.axisLabelX,962,c.tmbLabel,22,{a:'end'});
  T(g,'tmb-axis-zero',c.axisLabelX,1148,'0',22,{a:'end'});
  T(g,'tmb-axis-title',c.tmbTitleX,1055,'TMB',18,{a:'middle',r:-90});
  c.genes.forEach((gene,r)=>{
    const y=rowTop+r*rowH;
    for(let col=0;col<c.nCols;col++){
      R(g,'oncoplot-cell-empty',c.x0+col*colW,y,colW-c.gapX,rowH-1.6,'#ecf0f1');
    }
    const counts={};
    parseItems(c.cells[r]).forEach(it=>{
      const type=it[0],col=+it[1];
      R(g,'oncoplot-cell-mutated',c.x0+col*colW,y,colW-c.gapX,rowH-1.6,mutColors[type]);
      counts[type]=(counts[type]||0)+1;
    });
    T(g,'oncoplot-gene-label',c.labelX,y+rowH/2-1,gene,19.5,{a:'end',i:true});
    T(g,'oncoplot-percent-label',c.pctX,y+rowH/2-1,c.pct[r],19.5);
    let acc=0;
    mutOrder.forEach(m=>{
      if(counts[m]){
        R(g,'sample-count-bar-segment',c.sideX+acc*57.55,y,counts[m]*57.55,rowH-1.6,mutColors[m]);
        acc+=counts[m];
      }
    });
  });
  const sx=c.sideX,ex=c.sideX+230;
  P(g,'sample-count-axis','M'+sx+' 1139V1152H'+ex+'V1139',{fill:'none',stroke:'#000','stroke-width':c.axisW});
  T(g,'sample-count-axis-zero',sx,1120,'0',19,{a:'middle'});
  T(g,'sample-count-axis-max',ex,1120,'4',19,{a:'middle'});
  T(g,'sample-count-axis-title',sx+115,1139,'No. of samples',17.5,{a:'middle'});
}
const panelC=document.getElementById('panelC');
drawOnco(panelC,{x0:139.6,x1:963,nCols:41,genes:lowGenes,pct:lowPct,cells:lowCells,tmb:lowTmb,tmbMax:517,tmbLabel:'517',axisX:127,axisW:3.5,axisLabelX:102,tmbTitleX:80,labelX:129,pctX:969,sideX:1035,gapX:1.6});
drawOnco(panelC,{x0:1388,x1:2213,nCols:50,genes:highGenes,pct:highPct,cells:highCells,tmb:highTmb,tmbMax:20,tmbLabel:'20',axisX:1376,axisW:1.8,axisLabelX:1352,tmbTitleX:1329,labelX:1379,pctX:2218,sideX:2284,gapX:.7});
[[53,74,0,3],[320,342,4,7]].forEach(col=>{
  for(let i=col[2];i<col[3];i++){
    const y=[1952,1980,2010,2039][i-col[2]];
    R(panelC,'legend-swatch',col[0]-5,y-6,11,11,mutColors[lowLegendTypes[i]]);
    T(panelC,'legend-label',col[1],y,lowLegendLabels[i],25);
  }
});
T(panelC,'legend-label',74,2039,lowLegendLabels[3],25);
R(panelC,'legend-swatch',48,2033,11,11,mutColors[lowLegendTypes[3]]);
highLegendLabels.forEach((lab,i)=>{
  const left=i<3;
  const y=[1952,1981,2010,1952,1981][i];
  R(panelC,'legend-swatch',(left?1302:1569)-5,y-6,11,11,mutColors[highLegendTypes[i]]);
  T(panelC,'legend-label',left?1324:1590,y,lab,25);
});

/* ===== CNV LOLLIPOP ===== */
(function(){
  const g=document.getElementById('panelE');
  const yv=v=>1729.4-v*508.5;
  const xi=i=>2688+i*33.37;
  L(g,'cnv-y-axis',2641,yv(1.2),2641,yv(0),'#000',2);
  cnvTicks.forEach(t=>{
    const y=yv(parseFloat(t));
    L(g,'cnv-y-tick',2628,y,2641,y,'#000',2);
    T(g,'cnv-y-tick-label',2613,y,t,31,{a:'end',b:true});
  });
  T(g,'cnv-y-axis-title',2541,1414,'CNV.frequency(%)',34,{a:'middle',r:-90});
  C(g,'legend-gain-dot',3010,1161,8,'#d0506e');
  T(g,'legend-gain-label',3054,1161,'GAIN',45);
  C(g,'legend-loss-dot',3220,1161,8,'#65b95a');
  T(g,'legend-loss-label',3264,1161,'LOSS',45);
  cnvGenes.forEach((name,i)=>{
    const top=Math.max(cnvGain[i]||0,cnvLoss[i]||0);
    if(top>0){L(g,'cnv-stem',xi(i),yv(top),xi(i),yv(0),'#c9c9c9',13.5);}
    if(cnvGain[i]!==null){C(g,'cnv-gain-point',xi(i),yv(cnvGain[i]),11,'#d0506e');}
    if(cnvLoss[i]!==null){C(g,'cnv-loss-point',xi(i),yv(cnvLoss[i]),11,'#65b95a');}
    T(g,'cnv-gene-label',xi(i)+3,1778,name,23,{a:'end',i:true,r:-45});
  });
})();

/* ===== TMB DOTPLOT ===== */
(function(){
  const g=document.getElementById('panelF');
  const yv=v=>2989-(Math.log10(v)+3)*117.5;
  const values=[];
  tmbLevels.forEach((lev,i)=>{for(let k=0;k<tmbCounts[i];k++){values.push(lev);}});
  const xi=i=>207+(901-207)*i/(values.length-1);
  [197,307,417,526,635,744,854].forEach(x=>{
    L(g,'tmb-vertical-gridline',x,2268,x,3015,'#cfcfcf',3,{'stroke-dasharray':'3 11'});
  });
  tmbTicks.forEach(t=>{
    const y=yv(t);
    L(g,'tmb-horizontal-gridline',197,y,918,y,'#cfcfcf',3,{'stroke-dasharray':'3 11'});
    L(g,'tmb-y-tick',152,y,170,y,'#000',4);
    T(g,'tmb-y-tick-label',132,y,String(t),28,{a:'end'});
  });
  L(g,'tmb-y-axis',170,2282,170,2991,'#000',4);
  T(g,'tmb-y-axis-title',63,2637,'TMB/MB (log10)',29,{a:'middle',r:-90});
  L(g,'tmb-median-line',184,yv(.1),918,yv(.1),'#e2532a',5,{'stroke-dasharray':'20 20'});
  values.forEach((v,i)=>{
    C(g,'tmb-sample-point',xi(i),yv(v),9,'#465a6e',{'fill-opacity':.48});
  });
  T(g,'tmb-median-label',170,3035,'Median: 0.1/MB',29);
})();

/* ===== STACKED BARS G / I ===== */
(function(){
  const g=document.getElementById('panelG');
  const yv=v=>2995-v*703;
  L(g,'g-y-axis',1075,2258,1075,3030,'#111',2);
  L(g,'g-x-axis',1074,3030,1707,3030,'#111',4);
  gTicks.forEach(t=>{
    const y=yv(parseFloat(t));
    L(g,'g-y-tick',1067,y,1075,y,'#333',2);
    T(g,'g-y-tick-label',1062,y,t,24,{a:'end',f:'#4d4d4d'});
  });
  gCategories.forEach((c,i)=>{
    const x=1146+i*288,w=203,cx=x+w/2;
    R(g,'g-bar-high',x,yv(1),w,yv(gLowShare[i])-yv(1),'#8ccdc0',{stroke:'#222','stroke-width':5});
    R(g,'g-bar-low',x,yv(gLowShare[i]),w,yv(0)-yv(gLowShare[i]),'#f5f5b0',{stroke:'#222','stroke-width':5});
    L(g,'g-x-tick',cx,3030,cx,3041,'#333',2);
    T(g,'g-x-tick-label',cx-10,3069,c,24,{a:'middle',f:'#4d4d4d',r:-45});
  });
  T(g,'g-y-axis-title',994,2644,'Percentage',30,{a:'middle',r:-90});
  T(g,'g-x-axis-title',1390,3116,'riskScore',31,{a:'middle'});
  T(g,'g-legend-title',1751,2584,'TMB',27);
  R(g,'g-legend-key-high',1751,2618,43,48,'#8ccdc0',{stroke:'#222','stroke-width':4});
  R(g,'g-legend-key-low',1751,2668,43,48,'#f5f5b0',{stroke:'#222','stroke-width':4});
  T(g,'g-legend-label-high',1808,2644,'high',24);
  T(g,'g-legend-label-low',1808,2695,'low',24);
})();
(function(){
  const g=document.getElementById('panelI');
  const yv=v=>4152-v*725;
  L(g,'i-y-axis',128,3390,128,4188,'#111',2);
  L(g,'i-x-axis',127,4188,534,4188,'#111',4);
  gTicks.forEach(t=>{
    const y=yv(parseFloat(t));
    L(g,'i-y-tick',120,y,128,y,'#333',2);
    T(g,'i-y-tick-label',116,y,t,23,{a:'end',f:'#4d4d4d'});
  });
  iCategories.forEach((c,i)=>{
    const x=156+i*184,w=166;
    R(g,'i-bar-c2',x,yv(1),w,yv(iC4Share[i])-yv(1),'#64b79a');
    R(g,'i-bar-c4',x,yv(iC4Share[i]),w,yv(0)-yv(iC4Share[i]),'#f08a60');
    L(g,'i-x-tick',x+w/2,4188,x+w/2,4197,'#333',2);
    T(g,'i-x-tick-label',x+w/2,4212,c,24,{a:'middle',f:'#4d4d4d'});
  });
  T(g,'i-y-axis-title',48,3789,'count',28,{a:'middle',r:-90});
  T(g,'i-x-axis-title',332,4249,'riskScore',29,{a:'middle'});
  T(g,'i-legend-title',578,3732,'BestCall',27.5);
  R(g,'i-legend-key-c2',579,3765,41,46,'#64b79a');
  R(g,'i-legend-key-c4',579,3814.5,41,46,'#f08a60');
  T(g,'i-legend-label-c2',635,3789,'C2 (IFN−gamma dominant)',23);
  T(g,'i-legend-label-c4',635,3839,'C4 (lymphocyte depletion)',23);
})();

/* ===== BOX PLOT J ===== */
(function(){
  const g=document.getElementById('panelJ');
  const yv=v=>4174-v*4.94;
  const xc=[1264,1620],unit=355.6,boxHalf=134;
  const col=['#d9432f','#45aec8'],fill=['#fbefe9','#eff6fa'];
  R(g,'j-plot-frame',1051,3398,782,791,'none',{stroke:'#222','stroke-width':2});
  jTicks.forEach(t=>{
    L(g,'j-y-tick',1043,yv(t),1051,yv(t),'#333',2);
    T(g,'j-y-tick-label',1037,yv(t),String(t),27,{a:'end',f:'#4d4d4d'});
  });
  jCategories.forEach((c,i)=>{
    const x=xc[i];
    L(g,'j-whisker',x,yv(jWhiskerHigh[i]),x,yv(jWhiskerLow[i]),col[i],3);
    R(g,'j-box',x-boxHalf,yv(jQ3[i]),boxHalf*2,yv(jQ1[i])-yv(jQ3[i]),fill[i],{stroke:col[i],'stroke-width':3});
    L(g,'j-median',x-boxHalf,yv(jMedian[i]),x+boxHalf,yv(jMedian[i]),col[i],6);
    L(g,'j-x-tick',x,4189,x,4198,'#333',2);
    T(g,'j-x-tick-label',x,4216,c,25.5,{a:'middle',f:'#4d4d4d'});
  });
  jC2Values.forEach((v,i)=>{C(g,'j-point-c2',xc[0]+jC2Jitter[i]*unit,yv(v),7,col[0]);});
  jC4Values.forEach((v,i)=>{C(g,'j-point-c4',xc[1]+jC4Jitter[i]*unit,yv(v),7,col[1]);});
  T(g,'j-p-value',1083,3423,'p = 0.75',31);
  T(g,'j-y-axis-title',971,3793,'RS',30,{a:'middle',r:-90});
  T(g,'j-x-axis-title',1442,4254,'immune_group',31,{a:'middle'});
})();

/* ===== KAPLAN-MEIER ===== */
function drawKM(g,c){
  const xt=t=>c.x0+t*c.ppy,ys=s=>c.y0-s*c.ppu,b=c.box;
  for(let t=0;t<=c.maxYear+.6;t+=.5){
    const x=xt(t);
    if(x>b[2]){continue;}
    L(g,'km-vertical-gridline',x,b[1],x,b[3],Number.isInteger(t)?'#ebebeb':'#f1f1f1',Number.isInteger(t)?3.5:1.5);
  }
  for(let s=0;s<=112.5;s+=12.5){
    const y=ys(s);
    if(y<b[1]){continue;}
    L(g,'km-horizontal-gridline',b[0],y,b[2],y,'#ebebeb',s%25===0?3.5:1.5);
  }
  const clip=mk('clipPath',g,'km-clip-region',{id:c.id});
  R(clip,'km-clip-rect',b[0],b[1],b[2]-b[0],b[3]-b[1],'#000');
  c.curves.forEach((cv,i)=>{
    let d='M'+xt(0)+' '+ys(100);
    cv[0].forEach((t,k)=>{
      d+='H'+xt(t).toFixed(1)+'V'+ys(cv[1][k]).toFixed(1);
    });
    P(g,'km-survival-curve',d,{fill:'none',stroke:kmColors[i],'stroke-width':8.5,'stroke-linejoin':'miter','clip-path':'url(#'+c.id+')'});
    cv[2].forEach(m=>{
      const x=xt(m[0]),y=ys(m[1]);
      P(g,'km-censor-mark','M'+(x-15)+' '+y+'H'+(x+15)+'M'+x+' '+(y-13)+'V'+(y+13),{stroke:kmColors[i],'stroke-width':5,fill:'none','clip-path':'url(#'+c.id+')'});
    });
  });
  R(g,'km-plot-frame',b[0],b[1],b[2]-b[0],b[3]-b[1],'none',{stroke:'#333','stroke-width':2.5});
  survivalTicks.forEach(s=>{
    L(g,'km-y-tick',b[0]-9,ys(s),b[0],ys(s),'#333',2.5);
    T(g,'km-y-tick-label',b[0]-21,ys(s),String(s),32,{a:'end',f:'#4d4d4d'});
  });
  for(let t=0;t<=c.maxYear;t++){
    L(g,'km-x-tick',xt(t),b[3],xt(t),b[3]+9,'#333',2.5);
    T(g,'km-x-tick-label',xt(t),b[3]+33,String(t),32,{a:'middle',f:'#4d4d4d'});
  }
  T(g,'km-y-axis-title',c.yTitleX,c.yTitleY,'Survival probability (%)',c.yTitleSize,{a:'middle',r:-90});
  T(g,'km-x-axis-title',c.xTitleX,b[3]+78,'Time(years)',c.timeSize,{a:'middle'});
  T(g,'km-p-value',c.pX,c.pY,'p < 0.0001',c.pSize);
  /* legend */
  c.series.forEach((s,i)=>{
    const kx=c.legendKeys[i],ly=c.legendY;
    L(g,'legend-key-line',kx[0],ly,kx[1],ly,kmColors[i],9);
    L(g,'legend-key-cross',(kx[0]+kx[1])/2,ly-13,(kx[0]+kx[1])/2,ly+13,kmColors[i],5);
    T(g,'legend-entry-label',c.legendText[i],ly,s,c.fontLegend);
  });
  /* risk table */
  const tb=c.table;
  T(g,'risk-table-title',tb.box[0],tb.titleY,'Number at risk',tb.titleSize);
  const xc=i=>tb.x0+i*tb.step;
  for(let i=0;i<=c.risk[0].length-1;i++){
    L(g,'risk-table-gridline',xc(i)+tb.step/2,tb.box[1],xc(i)+tb.step/2,tb.box[3],'#f1f1f1',1.5);
    L(g,'risk-table-tick',xc(i),tb.box[3],xc(i),tb.box[3]+9,'#333',2.5);
    T(g,'risk-table-x-tick-label',xc(i),tb.tickY,String(i),31,{a:'middle',f:'#4d4d4d'});
  }
  c.risk.forEach((row,r)=>{
    const y=tb.rowY+r*tb.rowStep;
    L(g,'risk-table-row-line',tb.box[0],y,tb.box[2],y,'#ebebeb',3.5);
    T(g,'risk-table-row-label',tb.labelX,y,c.series[r],c.fontLegend,{a:'end',f:kmColors[r]});
    row.forEach((v,i)=>{
      T(g,'risk-table-count',xc(i),y,String(v),tb.digit,{a:'middle'});
    });
  });
  R(g,'risk-table-frame',tb.box[0],tb.box[1],tb.box[2]-tb.box[0],tb.box[3]-tb.box[1],'none',{stroke:'#333','stroke-width':2.5});
  T(g,'risk-table-x-axis-title',tb.titleX,tb.xTitleY,'Time(years)',c.timeSize,{a:'middle'});
}
drawKM(document.getElementById('panelH'),{id:'clip-h',x0:2082,ppy:249.7,y0:2772,ppu:5.56,box:[2008,2189,3653,2799],maxYear:6,
  curves:[[hRedT,hRedS,hRedCensor],[hBlueT,hBlueS,hBlueCensor],[hGoldT,hGoldS,hGoldCensor],[hGreenT,hGreenS,hGreenCensor]],
  yTitleX:1899,yTitleY:2494,yTitleSize:39,timeSize:42,pSize:54,xTitleX:2831,pX:2117,pY:2771,series:hSeries,fontLegend:35,legendY:2098,
  legendKeys:[[2041,2094],[2453,2506],[2863,2914],[3269,3321]],legendText:[2123,2535,2941,3350],risk:hRisk,
  table:{box:[2254,3001,3653,3179.5],titleY:2955,titleSize:50,x0:2317,step:212.4,rowY:3024,rowStep:43.7,digit:47,labelX:2256,tickY:3212,titleX:2954,xTitleY:3257}});
drawKM(document.getElementById('panelK'),{id:'clip-k',x0:2090,ppy:185.9,y0:4038,ppu:5.466,box:[2017,3466,3650,4064],maxYear:8,
  curves:[[kRedT,kRedS,kRedCensor],[kBlueT,kBlueS,kBlueCensor],[kGoldT,kGoldS,kGoldCensor],[kGreenT,kGreenS,kGreenCensor]],
  yTitleX:1901,yTitleY:3765,yTitleSize:41,timeSize:44,pSize:56,xTitleX:2833,pX:2121,pY:4040,series:kSeries,fontLegend:37,legendY:3371,
  legendKeys:[[2127,2183],[2498,2554],[2869,2925],[3237,3293]],legendText:[2214,2584,2955,3322],risk:kRisk,
  table:{box:[2212.5,4274,3650,4446],titleY:4226,titleSize:53,x0:2277,step:163.7,rowY:4299.5,rowStep:41.8,digit:50,labelX:2202,tickY:4479,titleX:2932,xTitleY:4526}});
</script>
</body>
</html>
